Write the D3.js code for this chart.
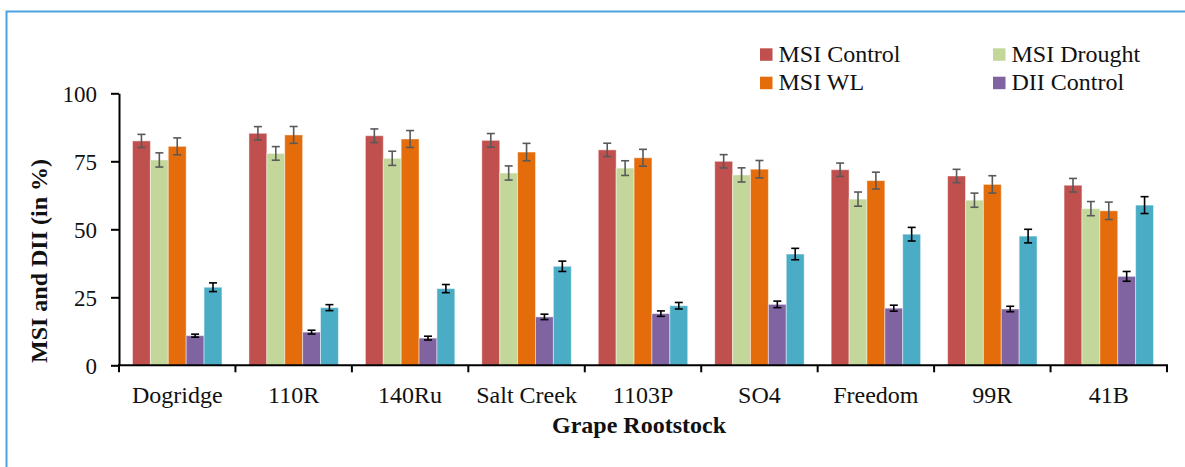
<!DOCTYPE html>
<html>
<head>
<meta charset="utf-8">
<script src="https://cdn.jsdelivr.net/npm/d3@7"></script>
<style>
  html, body { margin: 0; padding: 0; background: #fff; }
  svg { display: block; }
  svg text { font-family: "Liberation Serif", "Times New Roman", serif; }
</style>
</head>
<body>
<svg id="chart" width="1185" height="467"></svg>
<script>
// Rootstocks on the x axis
const categories = ["Dogridge", "110R", "140Ru", "Salt Creek", "1103P", "SO4", "Freedom", "99R", "41B"];

// Series names (the last series is not listed in the legend)
const seriesNames = ["MSI Control", "MSI Drought", "MSI WL", "DII Control", "DII Drought"];
const legendNames = ["MSI Control", "MSI Drought", "MSI WL", "DII Control"];
const seriesColors = ["#C0504D", "#C4D79B", "#E46C0A", "#8064A2", "#4BACC6"];
const errorColors = ["#595959", "#595959", "#595959", "#000000", "#000000"];

// Mean values (%)
const msiControl = [82.5, 85.3, 84.4, 82.7, 79.2, 75.0, 71.9, 69.6, 66.2];
const msiDrought = [75.5, 77.9, 76.1, 70.7, 72.5, 70.0, 61.1, 60.7, 57.6];
const msiWL      = [80.5, 84.7, 83.2, 78.4, 76.3, 72.1, 67.9, 66.5, 56.8];
const diiControl = [10.9, 12.2, 10.0, 17.8, 19.0, 22.4, 21.0, 20.7, 32.7];
const diiDrought = [28.7, 21.2, 28.2, 36.4, 21.9, 40.9, 48.2, 47.5, 58.9];

// Standard errors
const msiControlErr = [2.4, 2.45, 2.5, 2.5, 2.45, 2.45, 2.45, 2.45, 2.5];
const msiDroughtErr = [2.6, 2.5, 2.6, 2.6, 2.7, 2.6, 2.6, 2.6, 2.6];
const msiWLErr      = [3.1, 3.1, 3.1, 3.2, 3.1, 3.2, 3.1, 3.2, 3.2];
const diiControlErr = [0.55, 0.7, 0.7, 1.0, 1.0, 1.2, 1.1, 1.0, 1.8];
const diiDroughtErr = [1.6, 1.1, 1.5, 1.9, 1.2, 2.1, 2.5, 2.5, 3.1];

const yTicks = [0, 25, 50, 75, 100];

const values = [msiControl, msiDrought, msiWL, diiControl, diiDrought];
const errors = [msiControlErr, msiDroughtErr, msiWLErr, diiControlErr, diiDroughtErr];

const FONT = "Liberation Serif";
const svg = d3.select("#chart");

// Outer frame (top and left edges visible)
svg.append("path")
  .attr("d", "M6.5,467 L6.5,11.5 L1185,11.5")
  .attr("fill", "none")
  .attr("stroke", "#4AA3DF")
  .attr("stroke-width", 2);

const plot = { left: 119, right: 1167, top: 93.3, bottom: 365.3 };

const x = d3.scaleBand().domain(categories).range([plot.left, plot.right]).padding(0);
const inner = d3.scaleBand().domain(seriesNames)
  .range([x.bandwidth() * 0.116, x.bandwidth() * 0.884]).padding(0);
const y = d3.scaleLinear().domain([0, 100]).range([plot.bottom, plot.top]);

// Bars with error bars
const groups = svg.append("g").selectAll("g")
  .data(categories)
  .join("g")
  .attr("transform", d => `translate(${x(d)},0)`);

groups.each(function(cat, ci) {
  const g = d3.select(this);
  seriesNames.forEach((s, si) => {
    const v = values[si][ci];
    const e = errors[si][ci];
    const bx = inner(s);
    const bw = inner.bandwidth();
    g.append("rect")
      .attr("x", bx)
      .attr("y", y(v))
      .attr("width", bw)
      .attr("height", y(0) - y(v))
      .attr("fill", seriesColors[si])
      .attr("stroke", "rgba(255,255,255,0.45)")
      .attr("stroke-width", 1);
    const cx = bx + bw / 2;
    const eg = g.append("g")
      .attr("stroke", errorColors[si])
      .attr("stroke-width", 1.6)
      .attr("fill", "none");
    eg.append("line").attr("x1", cx).attr("x2", cx).attr("y1", y(v + e)).attr("y2", y(v - e));
    eg.append("line").attr("x1", cx - 4).attr("x2", cx + 4).attr("y1", y(v + e)).attr("y2", y(v + e));
    eg.append("line").attr("x1", cx - 4).attr("x2", cx + 4).attr("y1", y(v - e)).attr("y2", y(v - e));
  });
});

// Y axis
const yAxis = svg.append("g")
  .attr("transform", `translate(${plot.left},0)`)
  .call(d3.axisLeft(y).tickValues(yTicks).tickSize(8).tickPadding(6).tickSizeOuter(0));
yAxis.attr("font-family", FONT);
yAxis.select(".domain").attr("stroke", "#000").attr("stroke-width", 2);
yAxis.selectAll(".tick line").attr("stroke", "#000").attr("stroke-width", 2);
yAxis.selectAll(".tick text")
  .attr("font-family", FONT)
  .attr("font-size", 23)
  .attr("fill", "#111")
  .attr("dy", "0.35em")
  .attr("x", -22);

// X axis with tick marks on category boundaries
const xg = svg.append("g");
xg.append("line")
  .attr("x1", plot.left - 1).attr("x2", plot.right + 1)
  .attr("y1", plot.bottom).attr("y2", plot.bottom)
  .attr("stroke", "#000").attr("stroke-width", 2);
const boundaries = categories.map(c => x(c)).concat([x(categories[categories.length - 1]) + x.bandwidth()]);
xg.selectAll("line.bt")
  .data(boundaries)
  .join("line")
  .attr("class", "bt")
  .attr("x1", d => d).attr("x2", d => d)
  .attr("y1", plot.bottom).attr("y2", plot.bottom + 7)
  .attr("stroke", "#000").attr("stroke-width", 2);
xg.selectAll("text")
  .data(categories)
  .join("text")
  .attr("x", d => x(d) + x.bandwidth() / 2)
  .attr("y", 403)
  .attr("text-anchor", "middle")
  .attr("font-family", FONT)
  .attr("font-size", 24)
  .attr("fill", "#111")
  .text(d => d);

// Axis titles
svg.append("text")
  .attr("x", 639)
  .attr("y", 433)
  .attr("text-anchor", "middle")
  .attr("font-family", FONT)
  .attr("font-size", 24)
  .attr("font-weight", "bold")
  .attr("fill", "#111")
  .text("Grape Rootstock");

svg.append("text")
  .attr("transform", "translate(47,261) rotate(-90)")
  .attr("text-anchor", "middle")
  .attr("font-family", FONT)
  .attr("font-size", 24)
  .attr("font-weight", "bold")
  .attr("fill", "#111")
  .text("MSI and DII (in %)");

// Legend
const legendPos = [[760, 48.3], [993, 48.3], [760, 76.7], [993, 76.7]];
const legend = svg.append("g");
legendNames.forEach((name, i) => {
  const [lx, ly] = legendPos[i];
  legend.append("rect")
    .attr("x", lx).attr("y", ly)
    .attr("width", 12.5).attr("height", 12.5)
    .attr("fill", seriesColors[seriesNames.indexOf(name)]);
  legend.append("text")
    .attr("x", lx + 18.5)
    .attr("y", ly + 13.6)
    .attr("font-family", FONT)
    .attr("font-size", 24)
    .attr("fill", "#111")
    .text(name);
});
</script>
</body>
</html>
